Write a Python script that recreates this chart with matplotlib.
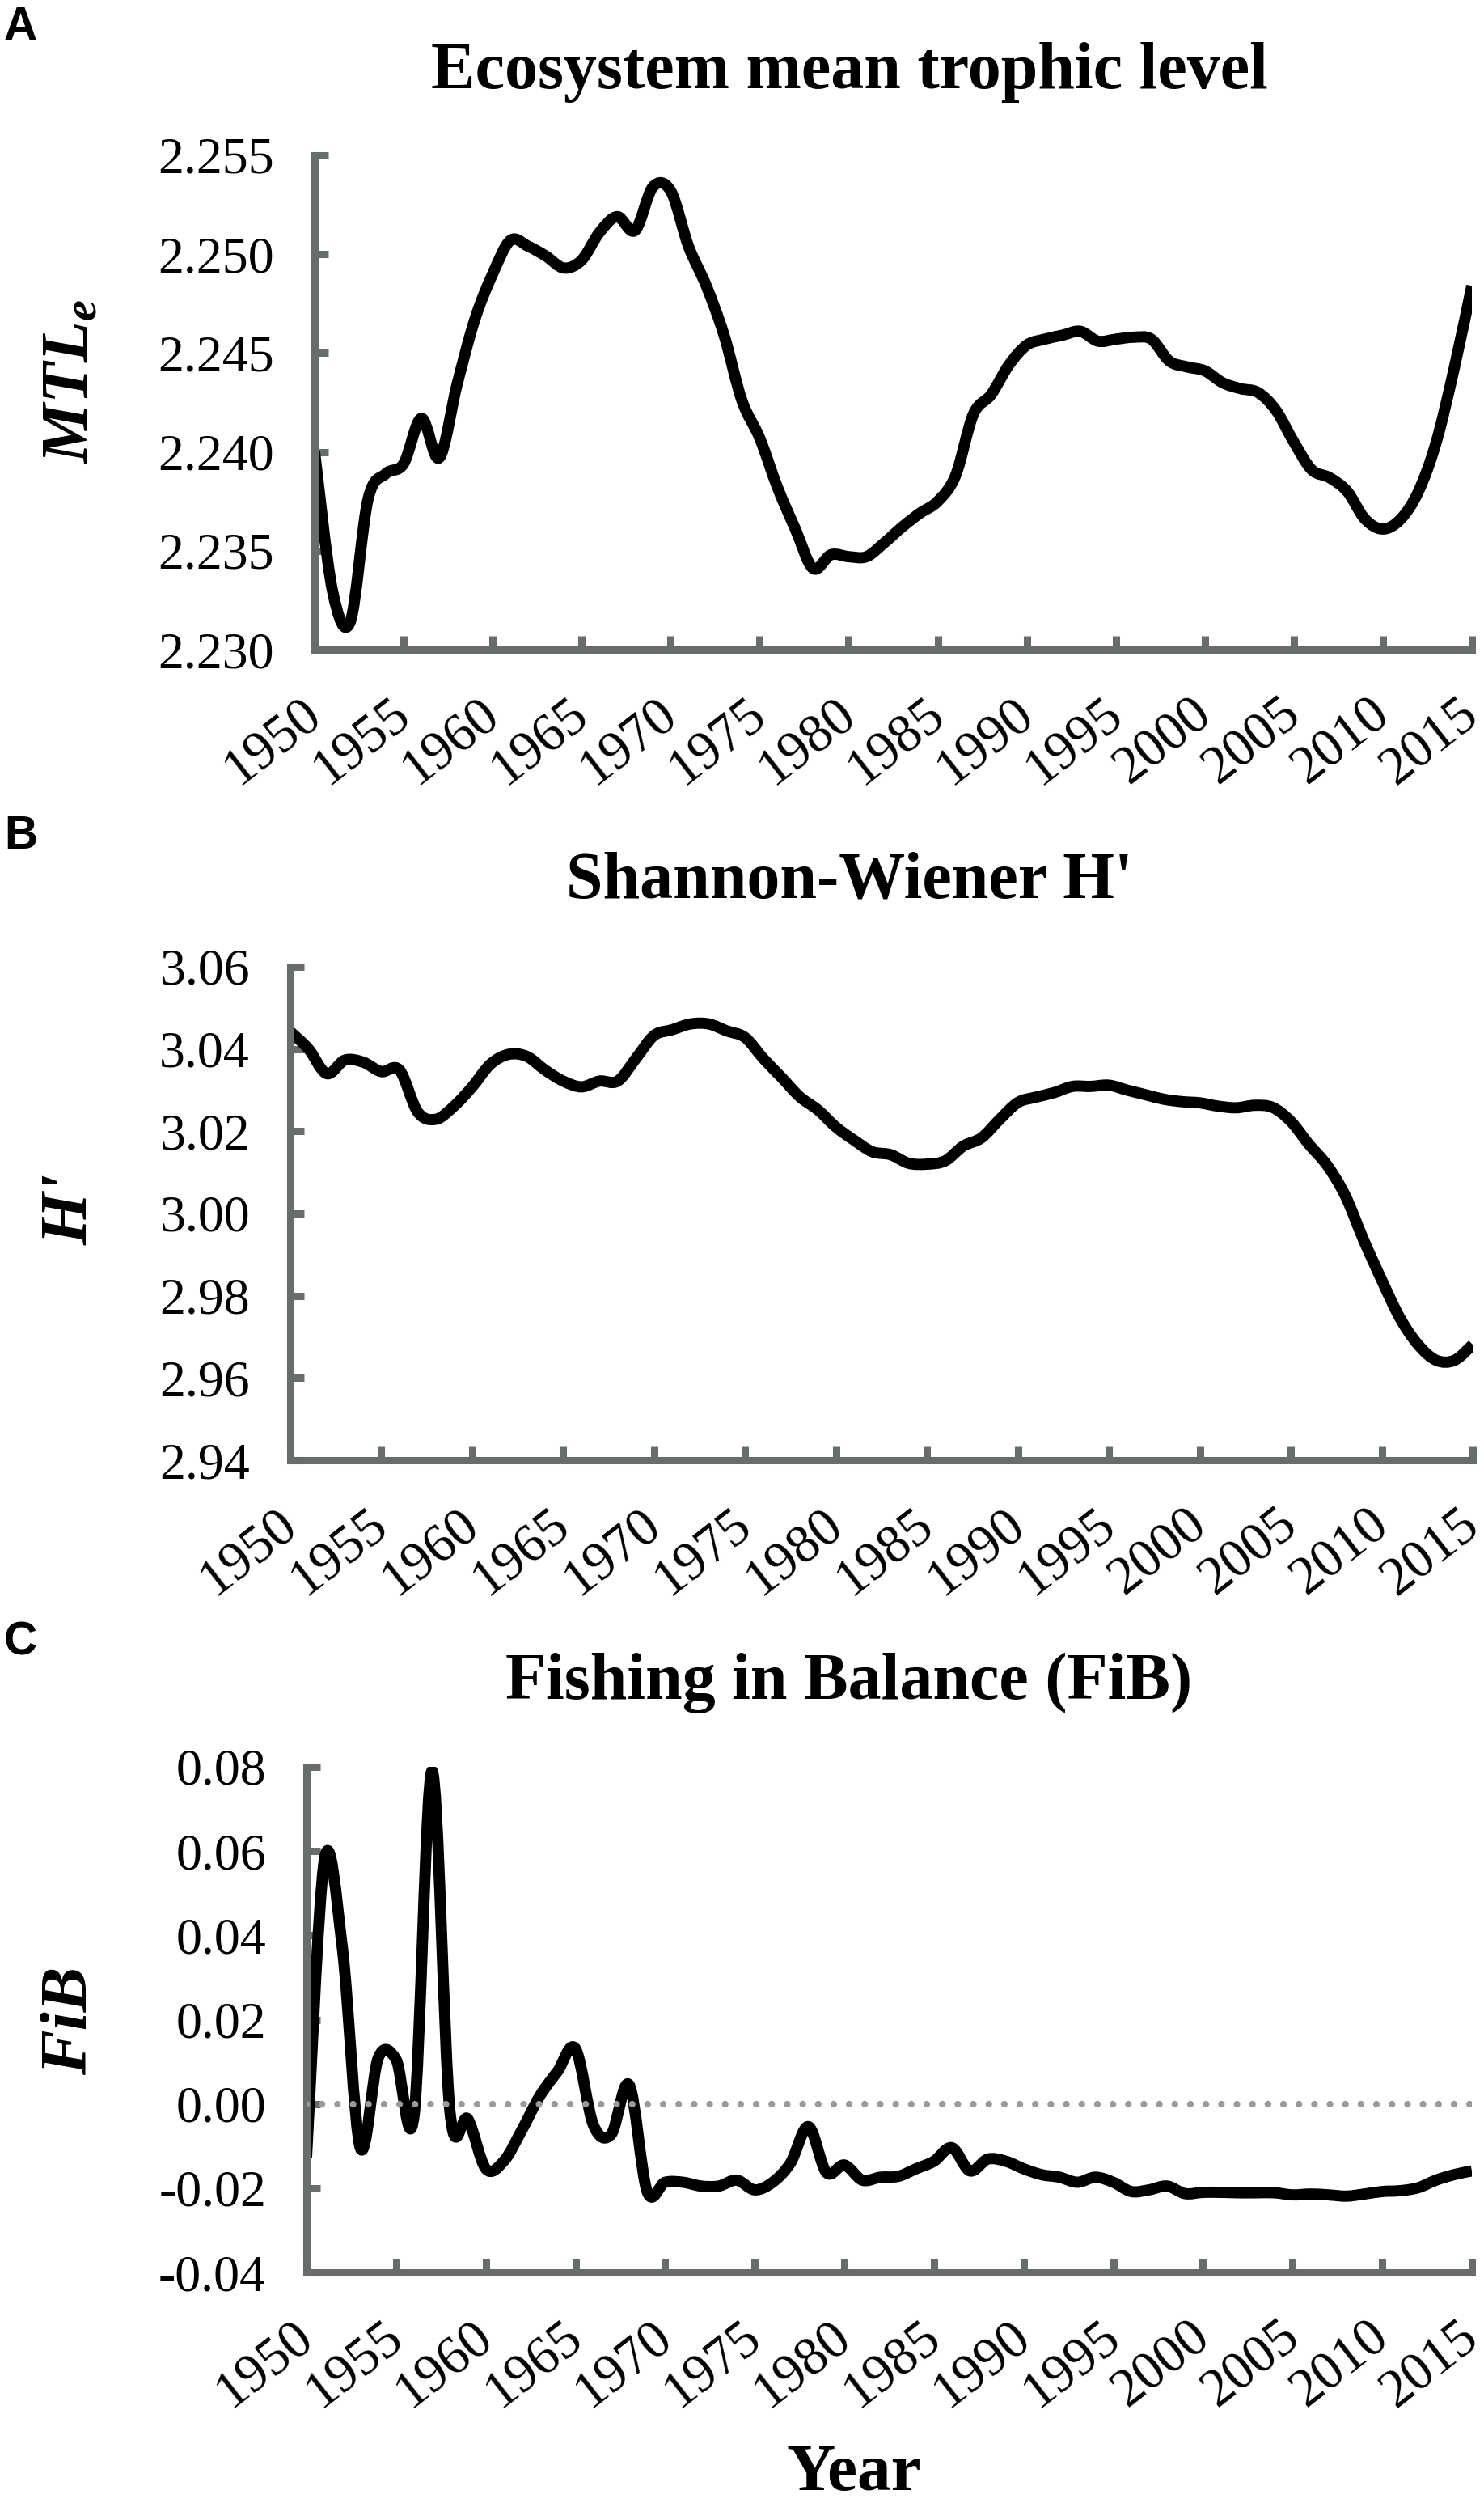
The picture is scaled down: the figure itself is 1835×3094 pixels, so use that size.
import matplotlib
matplotlib.use("Agg")
import matplotlib.pyplot as plt
from matplotlib.path import Path
from matplotlib.patches import PathPatch
from matplotlib.transforms import ScaledTranslation
import numpy as np

# ---------------- data ----------------
years = list(range(1950, 2016))
year_ticks = list(range(1950, 2016, 5))

mtl_e = [2.2400, 2.2330, 2.2314, 2.2376, 2.2389, 2.2394, 2.2417, 2.2397, 2.2434, 2.2467,
         2.2490, 2.2507, 2.2504, 2.2499, 2.2493, 2.2497, 2.2511, 2.2519, 2.2512, 2.2534,
         2.2532, 2.2504, 2.2484, 2.2459, 2.2426, 2.2407, 2.2382, 2.2361, 2.2341, 2.2348,
         2.2347, 2.2347, 2.2354, 2.2362, 2.2369, 2.2375, 2.2388, 2.2419, 2.2429, 2.2444,
         2.2454, 2.2457, 2.2459, 2.2461, 2.2456, 2.2457, 2.2458, 2.2457, 2.2446, 2.2443,
         2.2441, 2.2435, 2.2432, 2.2430, 2.2421, 2.2405, 2.2391, 2.2387, 2.2380, 2.2366,
         2.2361, 2.2366, 2.2380, 2.2405, 2.2442, 2.2484]

h_prime = [3.0442, 3.0400, 3.0340, 3.0373, 3.0368, 3.0345, 3.0349, 3.0247, 3.0229, 3.0261,
           3.0308, 3.0363, 3.0387, 3.0382, 3.0349, 3.0322, 3.0308, 3.0322, 3.0322, 3.0377,
           3.0433, 3.0447, 3.0461, 3.0461, 3.0444, 3.0428, 3.0377, 3.0331, 3.0284, 3.0252,
           3.0210, 3.0178, 3.0150, 3.0143, 3.0122, 3.0120, 3.0128, 3.0164, 3.0184, 3.0229,
           3.0270, 3.0283, 3.0294, 3.0309, 3.0309, 3.0312, 3.0300, 3.0289, 3.0278, 3.0272,
           3.0269, 3.0261, 3.0257, 3.0263, 3.0258, 3.0224, 3.0168, 3.0117, 3.0043, 2.9936,
           2.9838, 2.9746, 2.9681, 2.9643, 2.9643, 2.9681]

fib = [-0.0127, 0.0580, 0.0370, -0.0104, 0.0109, 0.0105, -0.0027, 0.0790, -0.0018, -0.0036,
       -0.0154, -0.0136, -0.0063, 0.0018, 0.0077, 0.0131, -0.0050, -0.0072, 0.0045, -0.0208,
       -0.0186, -0.0186, -0.0195, -0.0195, -0.0181, -0.0204, -0.0186, -0.0140, -0.0054, -0.0163,
       -0.0145, -0.0181, -0.0174, -0.0172, -0.0154, -0.0136, -0.0104, -0.0159, -0.0131, -0.0136,
       -0.0154, -0.0168, -0.0174, -0.0186, -0.0174, -0.0186, -0.0208, -0.0204, -0.0195, -0.0213,
       -0.0210, -0.0210, -0.0211, -0.0211, -0.0211, -0.0216, -0.0214, -0.0216, -0.0219, -0.0214,
       -0.0208, -0.0206, -0.0199, -0.0181, -0.0168, -0.0159]

mtl_ticks = [2.230, 2.235, 2.240, 2.245, 2.250, 2.255]
h_ticks = [2.94, 2.96, 2.98, 3.00, 3.02, 3.04, 3.06]
fib_ticks = [-0.04, -0.02, 0.00, 0.02, 0.04, 0.06, 0.08]

titles = ["Ecosystem mean trophic level", "Shannon-Wiener H'", "Fishing in Balance (FiB)"]
panel_letters = ["A", "B", "C"]

# ---------------- style ----------------
SERIF = ["Liberation Serif", "DejaVu Serif"]
plt.rcParams["font.family"] = SERIF
plt.rcParams["axes.unicode_minus"] = False
plt.rcParams["mathtext.fontset"] = "custom"
plt.rcParams["mathtext.rm"] = "Liberation Serif"
plt.rcParams["mathtext.it"] = "Liberation Serif:italic"
plt.rcParams["mathtext.bf"] = "Liberation Serif:bold"
plt.rcParams["mathtext.bfit"] = "Liberation Serif:bold:italic"

W, H = 1835, 3094
DPI = 100
GRAY = "#686c6c"
fig = plt.figure(figsize=(W / DPI, H / DPI), dpi=DPI)
fig.patch.set_facecolor("white")


def px_axes(left, top, right, bottom):
    return fig.add_axes([left / W, 1 - bottom / H, (right - left) / W, (bottom - top) / H])


def smooth_path(x, y):
    pts = np.column_stack([np.asarray(x, float), np.asarray(y, float)])
    n = len(pts)
    verts = [pts[0]]
    codes = [Path.MOVETO]
    for i in range(n - 1):
        p0 = pts[i - 1] if i > 0 else pts[i]
        p1 = pts[i]
        p2 = pts[i + 1]
        p3 = pts[i + 2] if i + 2 < n else pts[i + 1]
        c1 = p1 + (p2 - p0) / 6.0
        c2 = p2 - (p3 - p1) / 6.0
        verts += [c1, c2, p2]
        codes += [Path.CURVE4] * 3
    return Path(np.array(verts), codes)


def style_axes(ax, yticks, fmt):
    ax.set_xlim(years[0], years[-1])
    ax.set_ylim(yticks[0], yticks[-1])
    for s in ["top", "right"]:
        ax.spines[s].set_visible(False)
    for s in ["left", "bottom"]:
        ax.spines[s].set_color(GRAY)
        ax.spines[s].set_linewidth(6.5)
        ax.spines[s].set_capstyle("projecting")
    ax.set_yticks(yticks)
    ax.set_yticklabels([fmt % v for v in yticks], fontfamily=SERIF)
    ax.set_xticks(year_ticks)
    ax.set_xticklabels([str(v) for v in year_ticks], rotation=38, ha="right",
                       va="baseline", rotation_mode="anchor", fontfamily=SERIF)
    ax.tick_params(axis="both", direction="in", length=12, width=6.5, color=GRAY,
                   labelcolor="black")
    ax.tick_params(axis="y", pad=36, labelsize=46)
    ax.tick_params(axis="x", pad=62, labelsize=48)
    shift = ScaledTranslation(11 / DPI, 0, fig.dpi_scale_trans)
    for lab in ax.get_xticklabels():
        lab.set_transform(lab.get_transform() + shift)
    ax.set_facecolor("white")


def draw_series(ax, vals):
    patch = PathPatch(smooth_path(years, vals), facecolor="none", edgecolor="black",
                      linewidth=10, capstyle="butt", joinstyle="round",
                      transform=ax.transData, zorder=2)
    ax.add_patch(patch)


axA = px_axes(389, 192, 1820, 803)
axB = px_axes(359, 1195, 1821, 1805)
axC = px_axes(379, 2184, 1820, 2809)

style_axes(axA, mtl_ticks, "%.3f")
style_axes(axB, h_ticks, "%.2f")
style_axes(axC, fib_ticks, "%.2f")

draw_series(axA, mtl_e)
draw_series(axB, h_prime)
draw_series(axC, fib)

axC.axhline(0.0, color="#9a9a9a", linewidth=6, linestyle=(0, (0.001, 2.3)),
            dash_capstyle="round", zorder=3)

# titles
for t, yb in zip(titles, [109, 1109, 2100]):
    fig.text(1050 / W, 1 - yb / H, t, ha="center", va="baseline", fontsize=59,
             fontweight="bold", family=SERIF)

# panel letters
for lab, yb in zip(panel_letters, [49, 1049, 2046]):
    fig.text(5 / W, 1 - yb / H, lab, ha="left", va="baseline", fontsize=41,
             fontweight="bold", family=["Liberation Sans", "DejaVu Sans"])

# y labels
fig.text(88 / W, 1 - 472 / H, r"$\mathbfit{MTL}_{\mathbfit{e}}$", rotation=90,
         ha="center", va="center", fontsize=60)
fig.text(88 / W, 1 - 1495 / H, "H'", rotation=90, ha="center", va="center",
         fontsize=60, fontweight="bold", fontstyle="italic", family=SERIF)
fig.text(88 / W, 1 - 2498 / H, "FiB", rotation=90, ha="center", va="center",
         fontsize=60, fontweight="bold", fontstyle="italic", family=SERIF)

# x label
fig.text(1056 / W, 1 - 3078 / H, "Year", ha="center", va="baseline", fontsize=60,
         fontweight="bold", family=SERIF)

fig.savefig("out.png", dpi=DPI, facecolor="white")
